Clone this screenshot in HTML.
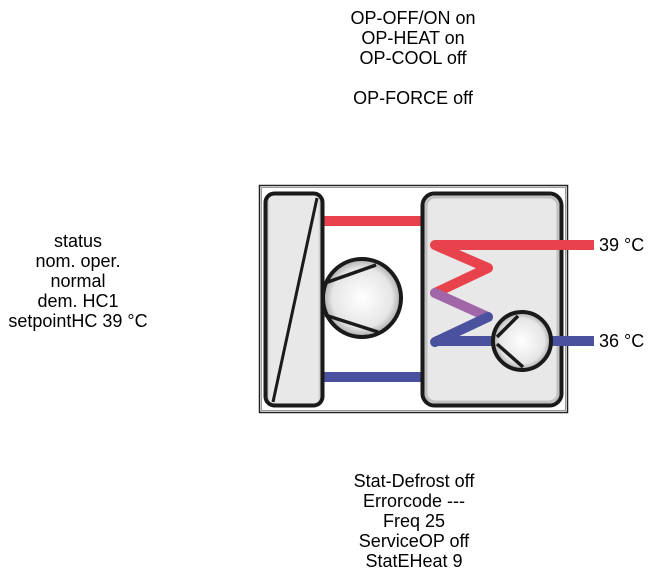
<!DOCTYPE html>
<html><head><style>
body{margin:0;width:663px;height:579px;background:#fff;position:relative;overflow:hidden;font-family:"Liberation Sans",Arial,sans-serif;font-size:18px;color:#000}
.t{position:absolute;line-height:20px;text-align:center;white-space:nowrap}
</style></head><body>
<div class="t" style="left:313px;width:200px;top:8px">OP-OFF/ON on<br>OP-HEAT on<br>OP-COOL off<br><br>OP-FORCE off</div>
<div class="t" style="left:-22px;width:200px;top:231px">status<br>nom. oper.<br>normal<br>dem. HC1<br>setpointHC 39 °C</div>
<div class="t" style="left:314px;width:200px;top:471px">Stat-Defrost off<br>Errorcode ---<br>Freq 25<br>ServiceOP off<br>StatEHeat 9</div>
<div class="t" style="left:599px;top:235px">39 °C</div>
<div class="t" style="left:599px;top:331px">36 °C</div>
<svg width="663" height="579" style="position:absolute;left:0;top:0">
<defs>
<linearGradient id="bx" x1="0" y1="0" x2="1" y2="0"><stop offset="0" stop-color="#a8a8a8"/><stop offset="0.08" stop-color="#e8e8e8"/><stop offset="0.92" stop-color="#e8e8e8"/><stop offset="1" stop-color="#a8a8a8"/></linearGradient>
<radialGradient id="ball" cx="50%" cy="50%" r="55%"><stop offset="0%" stop-color="#fff"/><stop offset="70%" stop-color="#e6e6e6"/><stop offset="100%" stop-color="#909090"/></radialGradient>
</defs>
<rect x="259.5" y="185.5" width="308" height="227" fill="#fff" stroke="#222" stroke-width="1.5"/>
<rect x="261.5" y="187.5" width="304" height="223" fill="none" stroke="#999" stroke-width="1"/>
<g stroke-width="10" stroke-linecap="butt" fill="none">
<line x1="320" y1="221" x2="424" y2="221" stroke="#e8434c"/>
<line x1="320" y1="377" x2="424" y2="377" stroke="#4a52a0"/>
</g>
<rect x="265.5" y="193.5" width="57" height="212" rx="9" fill="url(#bx)" stroke="#1a1a1a" stroke-width="4"/>
<line x1="317" y1="198" x2="273" y2="402" stroke="#1a1a1a" stroke-width="3"/>
<circle cx="362" cy="298" r="39" fill="url(#ball)" stroke="#1a1a1a" stroke-width="4"/>
<line x1="325" y1="283" x2="376" y2="265" stroke="#1a1a1a" stroke-width="3.5"/>
<line x1="325" y1="315" x2="378" y2="332" stroke="#1a1a1a" stroke-width="3.5"/>
<rect x="422.5" y="193.5" width="139" height="212" rx="12" fill="#e8e8e8" stroke="#1a1a1a" stroke-width="4"/>
<rect x="426" y="197" width="132" height="205" rx="9" fill="none" stroke="#c0c0c0" stroke-width="3"/>
<g stroke-width="10" stroke-linecap="round" fill="none">
<line x1="435" y1="245" x2="594" y2="245" stroke="#e8434c" stroke-linecap="butt"/>
<line x1="435" y1="341" x2="594" y2="341" stroke="#4a52a0" stroke-linecap="butt"/>
<polyline points="435,245 488,268 435,293" stroke="#e8434c" stroke-linejoin="round"/>
<line x1="435" y1="293" x2="488" y2="317" stroke="#a066a8"/>
<line x1="488" y1="317" x2="435" y2="342" stroke="#4a52a0"/>
</g>
<circle cx="522" cy="341" r="29" fill="url(#ball)" stroke="#1a1a1a" stroke-width="4"/>
<line x1="497" y1="337" x2="518" y2="316" stroke="#1a1a1a" stroke-width="3.5"/>
<line x1="497" y1="344" x2="523" y2="367" stroke="#1a1a1a" stroke-width="3.5"/>
</svg>
</body></html>
